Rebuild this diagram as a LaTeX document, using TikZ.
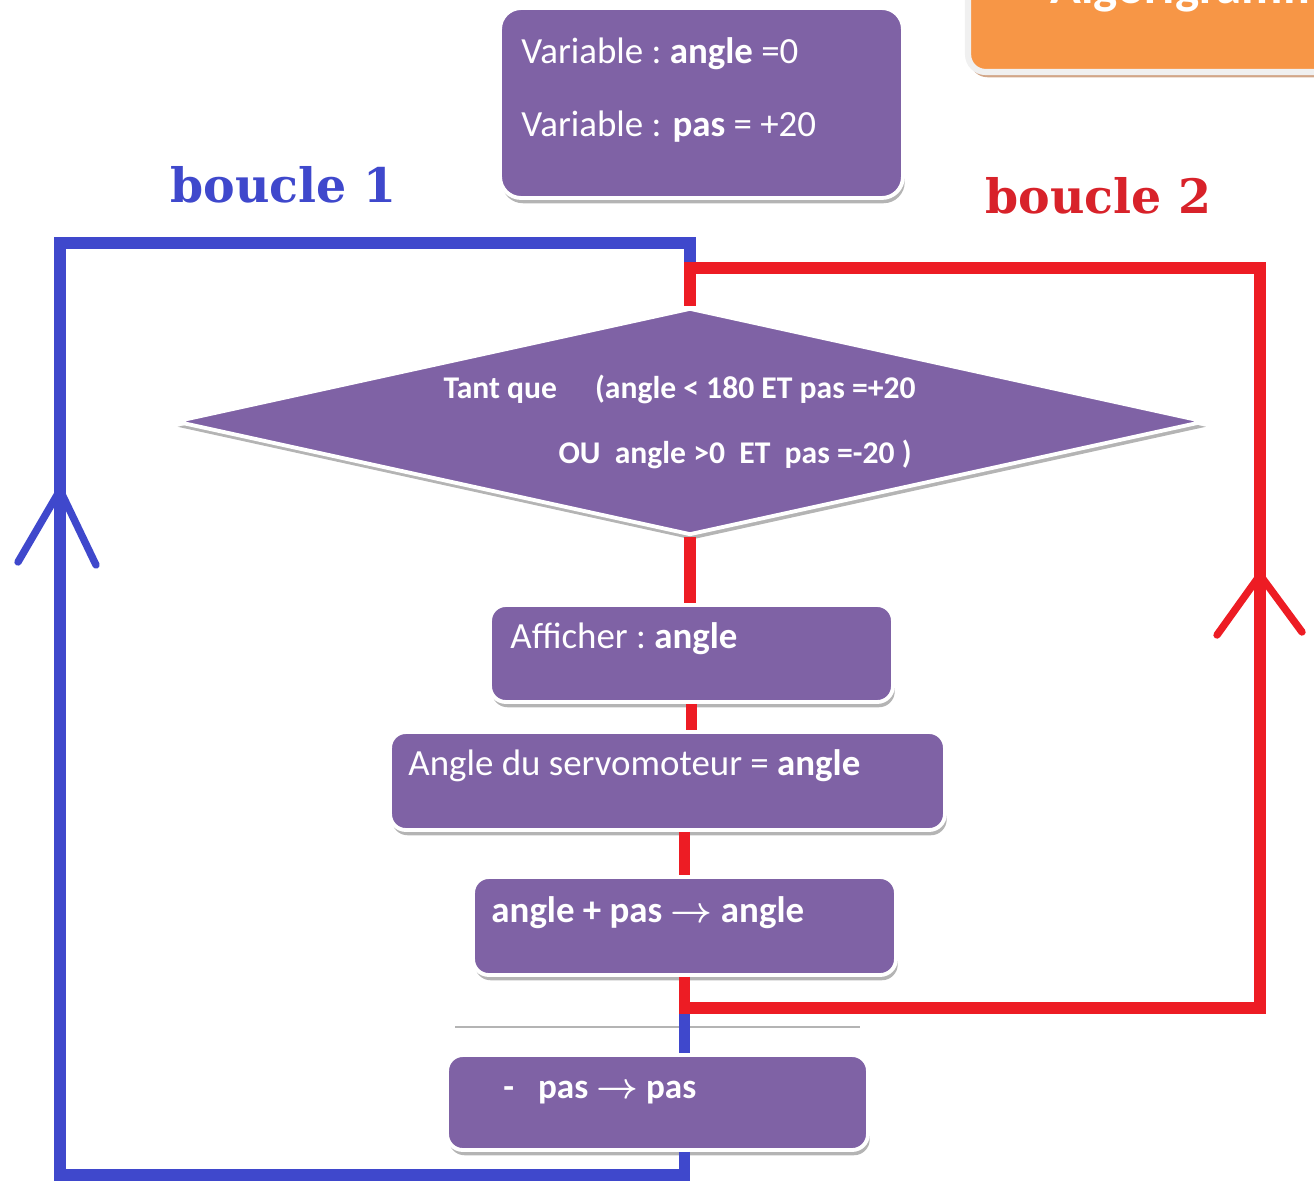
\documentclass[tikz,border=0pt]{standalone}
\usepackage{fontspec}
\setmainfont{Carlito}
\newfontfamily\slabfont{DejaVu Serif}
\usetikzlibrary{arrows.meta, positioning, shapes.geometric, calc, shadows}
\definecolor{cpurple}{HTML}{7F62A5}
\definecolor{corange}{HTML}{F79646}
\definecolor{cblue}{HTML}{3F48CC}
\definecolor{cred}{HTML}{ED1C24}
\definecolor{ctext}{HTML}{D8222A}
\definecolor{cshadow}{HTML}{B4B4B4}
\definecolor{cbrown}{HTML}{D2A688}
\tikzset{
  every picture/.style={x=0.02cm, y=-0.02cm},
  box/.style={draw=white, line width=2.2pt, fill=#1, rounded corners=9pt, drop shadow={shadow xshift=1pt, shadow yshift=-3pt, fill=cshadow, opacity=1}},
  box/.default=cpurple,
  titlebox/.style={draw=white!94!black, line width=3.5pt, fill=corange, rounded corners=10pt, drop shadow={shadow xshift=1pt, shadow yshift=-3pt, fill=cbrown, opacity=1}},
  txt/.style={text=white, font=\fontsize{21}{25}\selectfont, anchor=base west, inner sep=0pt},
  condtxt/.style={text=white, font=\bfseries\fontsize{18}{22}\selectfont, anchor=base west, inner sep=0pt},
  loopone/.style={draw=cblue, line width=6.3pt},
  looptwo/.style={draw=cred, line width=6.5pt},
  tip/.style={line width=4.2pt, line cap=round, line join=round},
  looplabel/.style={font=\slabfont\bfseries\fontsize{27}{30}\selectfont, anchor=base west, inner sep=0pt},
}
\begin{document}
\begin{tikzpicture}
  \useasboundingbox (0,0) rectangle (1314,1186);

  % title, cut by the page
  \node[titlebox, minimum width=7.4cm, minimum height=3cm] (title) at (1153,-3) {};
  \node[font=\bfseries\fontsize{29}{30}\selectfont, text=white, anchor=base west, inner sep=0pt] (titletxt) at (1050,4) {Algorigramme};

  % variables
  \node[box, minimum width=8.06cm, minimum height=3.8cm, rounded corners=12pt] (var) at (701.5,103) {};
  \node[txt] (varangle) at ($(var.north west)+(23,57)$) {Variable :\ \textbf{angle} =0};
  \node[txt] (varpas) at ($(var.north west)+(23,130)$) {Variable : \textbf{pas} = +20};

  % test
  \node[box, diamond, rounded corners=0pt, minimum width=20.6cm, minimum height=4.54cm] (cond) at (690,421.5) {};
  \node[condtxt] (condone) at ($(cond.west)+(270,-23.5)$) {Tant que\hspace{1.2em}(angle < 180 ET pas =+20};
  \node[condtxt] (condtwo) at ($(cond.west)+(385,41.5)$) {OU\ \ angle >0\ \ ET\ \ pas =-20 )};

  % body of the loop
  \node[box, minimum width=8.06cm, minimum height=1.94cm] (show) at (691.5,653.5) {};
  \node[txt] (showtxt) at ($(show.north west)+(22,45)$) {Afficher :\ \textbf{angle}};
  \node[box, minimum width=11.1cm, minimum height=1.96cm] (servo) at (667.5,781) {};
  \node[txt] (servotxt) at ($(servo.north west)+(20,45)$) {Angle du servomoteur = \textbf{angle}};
  \node[box, minimum width=8.46cm, minimum height=1.96cm] (incr) at (684.5,926) {};
  \node[txt, font=\bfseries\fontsize{21}{25}\selectfont] (incrtxt) at ($(incr.north west)+(20,47)$) {angle + pas {\boldmath$\rightarrow$} angle};
  \node[box, minimum width=8.42cm, minimum height=1.9cm] (flip) at (657.5,1102.5) {};
  \node[txt, font=\bfseries\fontsize{20}{24}\selectfont] (fliptxt) at ($(flip.north west)+(58,45)$) {-\ \ \ pas {\boldmath$\rightarrow$} pas};
  \draw[cshadow, line width=0.8pt] (455,1027) -- (860,1027);

  % corners of the loops
  \coordinate (rb) at (1260,1008);
  \coordinate (rt) at (1260,268);
  \coordinate (lb) at (60,1175);
  \coordinate (lt) at (60,243);

  % boucle 1
  \draw[loopone] (incr.south |- rb) -- (incr.south |- flip.north);
  \draw[loopone] (incr.south |- flip.south) -- (incr.south |- lb) -- (lb) -- (lt) -- (lt -| cond.north) -- ($(cond.north |- rt)+(0,3)$);
  \coordinate (tipone) at (60,490);
  \draw[loopone, tip] ($(tipone)+(-42,72)$) -- (tipone) -- ($(tipone)+(36,75)$);

  % boucle 2
  \draw[looptwo] (cond.south) -- (cond.south |- show.north);
  \draw[looptwo] (show.south) -- (show.south |- servo.north);
  \draw[looptwo] (incr.north |- servo.south) -- (incr.north);
  \draw[looptwo] (incr.south) -- (incr.south |- rb) -- (rb) -- (rt) -- (rt -| cond.north) -- (cond.north);
  \coordinate (tiptwo) at (1260,575);
  \draw[looptwo, tip] ($(tiptwo)+(-43,60)$) -- (tiptwo) -- ($(tiptwo)+(42,57)$);

  % labels
  \node[looplabel, text=cblue] (labone) at (170,202) {boucle 1};
  \node[looplabel, text=ctext] (labtwo) at (985,213) {boucle 2};
\end{tikzpicture}
\end{document}
